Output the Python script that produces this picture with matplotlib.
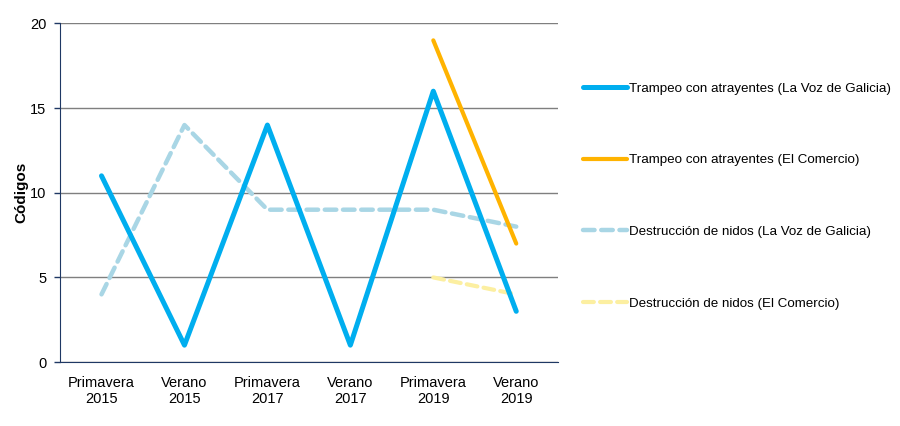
import matplotlib
matplotlib.use('Agg')
import matplotlib.pyplot as plt

plt.rcParams['font.family'] = ['Liberation Sans', 'DejaVu Sans']

## categories on the x axis
periodos = ['Primavera\n2015', 'Verano\n2015', 'Primavera\n2017',
            'Verano\n2017', 'Primavera\n2019', 'Verano\n2019']
## series values
trampeo_voz = [11, 1, 14, 1, 16, 3]
trampeo_comercio = [19, 7]
nidos_voz = [4, 14, 9, 9, 9, 8]
nidos_comercio = [5, 4]

x = list(range(len(periodos)))
x_comercio = x[4:]

fig = plt.figure(figsize=(9, 4.26), dpi=100)
ax = fig.add_axes([0.0667, 0.150, 0.553, 0.795])

ax.plot(x, trampeo_voz, color='#00AEEF', lw=3.6, solid_capstyle='round',
        label='Trampeo con atrayentes (La Voz de Galicia)', zorder=4)
ax.plot(x_comercio, trampeo_comercio, color='#FFB300', lw=3.0, solid_capstyle='round',
        label='Trampeo con atrayentes (El Comercio)', zorder=3)
ax.plot(x, nidos_voz, color='#A9D6E5', lw=3.2, ls=(0, (2.6, 1.5)), dash_capstyle='round',
        label='Destrucción de nidos (La Voz de Galicia)', zorder=2)
ax.plot(x_comercio, nidos_comercio, color='#FCEFA1', lw=3.0, ls=(0, (2.6, 1.5)), dash_capstyle='round',
        label='Destrucción de nidos (El Comercio)', zorder=2)

ax.set_xlim(-0.5, 5.5)
ax.set_ylim(0, 20)
ax.set_yticks([0, 5, 10, 15, 20])
ax.set_xticks(x)
ax.set_xticklabels(periodos, fontsize=10.5, linespacing=1.15)
ax.tick_params(axis='y', labelsize=10.5, length=4, color='#1F3864', width=1, pad=6)
ax.tick_params(axis='x', length=0, pad=10)
ax.yaxis.grid(True, color='#7F7F7F', lw=1)
ax.set_axisbelow(True)
for s in ['top', 'right']:
    ax.spines[s].set_visible(False)
ax.spines['left'].set_color('#1F3864')
ax.spines['bottom'].set_color('#1F3864')
ax.set_ylabel('Códigos', fontsize=11, fontweight='bold', labelpad=1)

fig.legend(loc='upper left', bbox_to_anchor=(0.634, 0.835), frameon=False,
           fontsize=9.6, handlelength=3.3, handletextpad=0.2, labelspacing=4.45)

fig.savefig('out.png', dpi=100)
